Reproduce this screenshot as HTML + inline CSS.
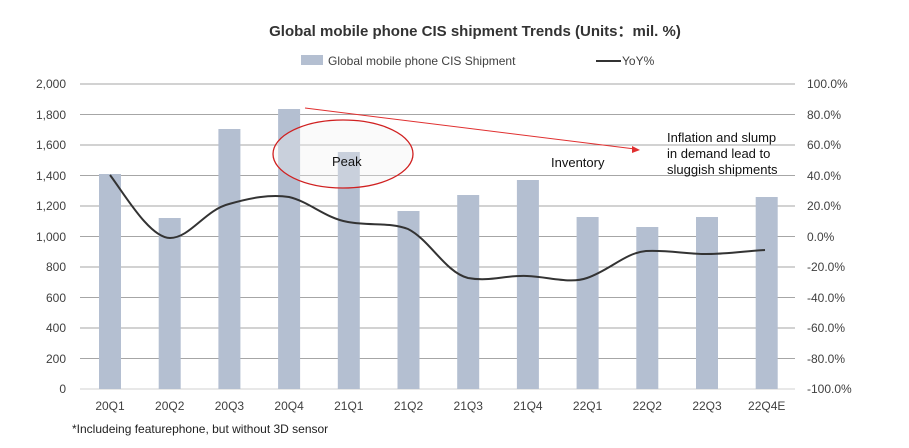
<!DOCTYPE html>
<html><head><meta charset="utf-8"><style>
body{margin:0;background:#fff;}
svg text{font-family:"Liberation Sans",Arial,sans-serif;}
</style></head><body>
<svg width="909" height="443" viewBox="0 0 909 443" xmlns="http://www.w3.org/2000/svg">
<text x="475" y="36" text-anchor="middle" font-size="15" font-weight="bold" fill="#333">Global mobile phone CIS shipment Trends (Units：mil. %)</text>
<rect x="301" y="55" width="22" height="10" fill="#b4bfd1"/>
<text x="328" y="65" font-size="12" fill="#404040">Global mobile phone CIS Shipment</text>
<line x1="596" y1="61" x2="621" y2="61" stroke="#333" stroke-width="2"/>
<text x="622" y="65" font-size="12" fill="#404040">YoY%</text>
<g stroke="#a6a6a6" stroke-width="1">
<line x1="80" y1="84" x2="795" y2="84"/><line x1="80" y1="114.5" x2="795" y2="114.5"/><line x1="80" y1="145" x2="795" y2="145"/><line x1="80" y1="175.5" x2="795" y2="175.5"/><line x1="80" y1="206" x2="795" y2="206"/><line x1="80" y1="236.5" x2="795" y2="236.5"/><line x1="80" y1="267" x2="795" y2="267"/><line x1="80" y1="297.5" x2="795" y2="297.5"/><line x1="80" y1="328" x2="795" y2="328"/><line x1="80" y1="358.5" x2="795" y2="358.5"/><line x1="80" y1="389" x2="795" y2="389" stroke="#d0d0d0"/>
</g>
<g fill="#b4bfd1">
<rect x="99" y="174" width="22" height="215"/>
<rect x="158.7" y="218" width="22" height="171"/>
<rect x="218.4" y="129" width="22" height="260"/>
<rect x="278.1" y="109" width="22" height="280"/>
<rect x="337.8" y="152" width="22" height="237"/>
<rect x="397.5" y="211" width="22" height="178"/>
<rect x="457.2" y="195" width="22" height="194"/>
<rect x="516.9" y="180" width="22" height="209"/>
<rect x="576.6" y="217" width="22" height="172"/>
<rect x="636.3" y="227" width="22" height="162"/>
<rect x="696" y="217" width="22" height="172"/>
<rect x="755.7" y="197" width="22" height="192"/>
</g>
<path d="M110,175 C125,195 150,238 170,238 C190,238 205,210 229,204 C250,198 270,194 289,197 C310,202 325,218 348,222 C370,226 390,222 408,229 C430,240 445,272 468,278 C490,282 505,275 527,276 C550,277 570,284 587,278 C610,270 625,253 646,251 C670,250 685,254 706,254 C730,254 745,251 765,250" fill="none" stroke="#333" stroke-width="2"/>
<ellipse cx="343" cy="154" rx="70" ry="34" fill="rgba(240,240,240,0.35)" stroke="#d02020" stroke-width="1.3"/>
<text x="332" y="166" font-size="13" fill="#111">Peak</text>
<line x1="305" y1="108" x2="635" y2="149" stroke="#e03030" stroke-width="1"/>
<polygon points="640,150 632,146 632,153" fill="#e03030"/>
<text x="551" y="167" font-size="13" fill="#111">Inventory</text>
<text x="667" y="142" font-size="13" fill="#111">Inflation and slump</text>
<text x="667" y="158" font-size="13" fill="#111">in demand lead to</text>
<text x="667" y="174" font-size="13" fill="#111">sluggish shipments</text>
<g font-size="12" fill="#404040" text-anchor="end">
<text x="66" y="88">2,000</text><text x="66" y="119">1,800</text><text x="66" y="149">1,600</text><text x="66" y="180">1,400</text><text x="66" y="210">1,200</text><text x="66" y="241">1,000</text><text x="66" y="271">800</text><text x="66" y="302">600</text><text x="66" y="332">400</text><text x="66" y="363">200</text><text x="66" y="393">0</text>
</g>
<g font-size="12" fill="#404040">
<text x="807" y="88">100.0%</text><text x="807" y="119">80.0%</text><text x="807" y="149">60.0%</text><text x="807" y="180">40.0%</text><text x="807" y="210">20.0%</text><text x="807" y="241">0.0%</text><text x="807" y="271">-20.0%</text><text x="807" y="302">-40.0%</text><text x="807" y="332">-60.0%</text><text x="807" y="363">-80.0%</text><text x="807" y="393">-100.0%</text>
</g>
<g font-size="12" fill="#404040" text-anchor="middle">
<text x="110" y="410">20Q1</text><text x="169.7" y="410">20Q2</text><text x="229.4" y="410">20Q3</text><text x="289.1" y="410">20Q4</text><text x="348.8" y="410">21Q1</text><text x="408.5" y="410">21Q2</text><text x="468.2" y="410">21Q3</text><text x="527.9" y="410">21Q4</text><text x="587.6" y="410">22Q1</text><text x="647.3" y="410">22Q2</text><text x="707" y="410">22Q3</text><text x="766.7" y="410">22Q4E</text>
</g>
<text x="72" y="433" font-size="12" fill="#222">*Includeing featurephone, but without 3D sensor</text>
</svg>
</body></html>
